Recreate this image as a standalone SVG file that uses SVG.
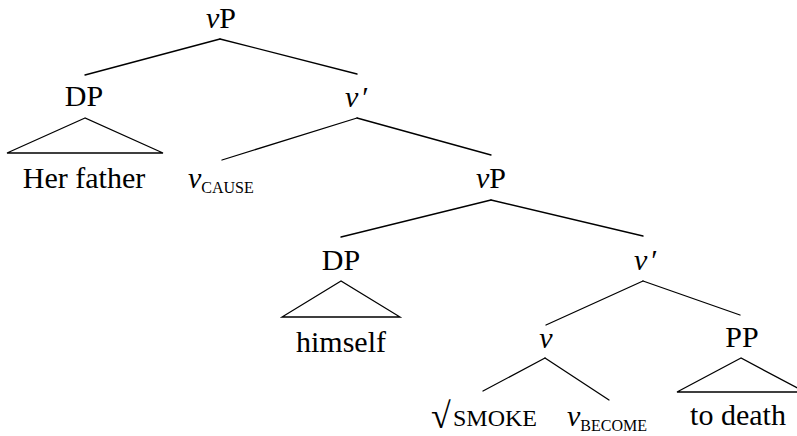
<svg xmlns="http://www.w3.org/2000/svg" width="797" height="436" viewBox="0 0 797 436">
<style>
text{font-family:'Liberation Serif','DejaVu Serif',serif;font-size:30px;fill:#000}
.it{font-style:italic}
.sc{font-size:16px}
.sm{font-size:24px}
.e{stroke:#000;stroke-width:1.3;fill:none;stroke-linecap:round}
</style>
<rect width="797" height="436" fill="#fff"/>
<g id="connectors" class="e">
<line x1="220" y1="39" x2="85" y2="75"/>
<line x1="220" y1="39" x2="357" y2="74"/>
<polygon points="85,118 7,153 163,153"/>
<line x1="357" y1="118" x2="222" y2="160"/>
<line x1="357" y1="118" x2="491" y2="155"/>
<line x1="491" y1="200" x2="341" y2="237"/>
<line x1="491" y1="200" x2="643" y2="236"/>
<polygon points="341,281 282,317 400,317"/>
<line x1="643" y1="281" x2="546" y2="325"/>
<line x1="643" y1="281" x2="740" y2="315"/>
<line x1="545" y1="358" x2="483" y2="391"/>
<line x1="545" y1="358" x2="609" y2="400"/>
<polygon points="741,358 677,392 805,392"/>
</g>
<g id="vP1"><text x="221" y="28" text-anchor="middle"><tspan class="it">ν</tspan>P</text></g>
<g id="DP1"><text x="84" y="106" text-anchor="middle">DP</text></g>
<g id="vbar1"><text x="345" y="107"><tspan class="it">ν</tspan><tspan dx="4">′</tspan></text></g>
<g id="her-father"><text x="84" y="188" text-anchor="middle">Her father</text></g>
<g id="v-cause"><text x="188" y="188"><tspan class="it">ν</tspan><tspan class="sc" dy="5">CAUSE</tspan></text></g>
<g id="vP2"><text x="491" y="188" text-anchor="middle"><tspan class="it">ν</tspan>P</text></g>
<g id="DP2"><text x="341" y="270" text-anchor="middle">DP</text></g>
<g id="vbar2"><text x="634" y="270"><tspan class="it">ν</tspan><tspan dx="4">′</tspan></text></g>
<g id="himself"><text x="341" y="352" text-anchor="middle">himself</text></g>
<g id="v3"><text x="546" y="348" text-anchor="middle" class="it">ν</text></g>
<g id="PP"><text x="742" y="347" text-anchor="middle">PP</text></g>
<g id="smoke"><text x="431" y="428" style="font-size:36px">√<tspan class="sm" x="453" y="426">SMOKE</tspan></text></g>
<g id="v-become"><text x="567" y="426"><tspan class="it">ν</tspan><tspan class="sc" dy="5">BECOME</tspan></text></g>
<g id="to-death"><text x="738" y="425" text-anchor="middle">to death</text></g>
</svg>
